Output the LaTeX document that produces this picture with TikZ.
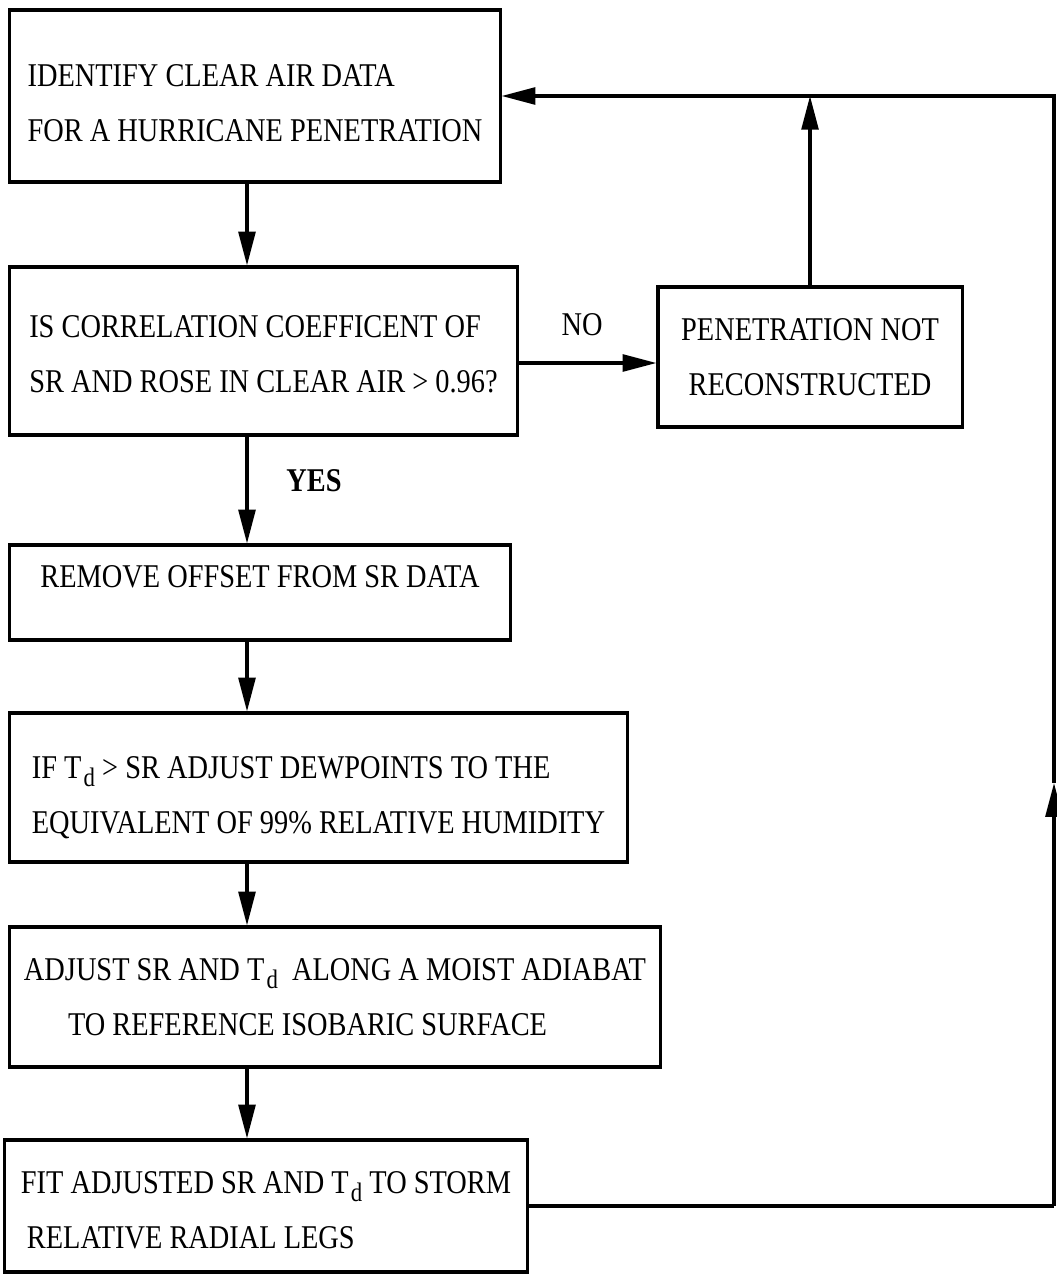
\documentclass[tikz,border=0pt]{standalone}
\usepackage{fontspec}
\setmainfont[FakeStretch=0.855]{Liberation Serif}
\usetikzlibrary{arrows.meta}

\newcommand{\Td}{T\kern1.5pt\raisebox{-6pt}{\fontsize{19}{19}\selectfont d}}

\begin{document}
\begin{tikzpicture}[x=0.025cm, y=-0.025cm,
    box/.style={draw, line width=2.2pt, align=left, inner sep=0pt,
        font=\fontsize{23.6}{39}\selectfont},
    arrow/.style={line width=2.2pt, -{Triangle[length=24pt,width=12pt]}},
    link/.style={line width=2.2pt},
    lbl/.style={font=\fontsize{23.6}{26}\selectfont}]

    \useasboundingbox (0,0) rectangle (1057,1274);

    \node[box, minimum width=12.25cm, minimum height=4.3cm] (ident) at (255,96)
        {\rule{0pt}{0.9cm}IDENTIFY CLEAR AIR DATA\\FOR A HURRICANE PENETRATION};
    \node[box, minimum width=12.675cm, minimum height=4.2cm] (corr) at (263.5,351)
        {\rule{0pt}{0.7cm}IS CORRELATION COEFFICENT OF\\SR AND ROSE IN CLEAR AIR > 0.96?};
    \node[box, align=center, minimum width=7.6cm, minimum height=3.5cm] (notrec) at (810,357)
        {PENETRATION NOT\\RECONSTRUCTED};
    \node[box, align=center, text depth=0.82cm, minimum width=12.5cm, minimum height=2.375cm] (offset) at (260,592.5)
        {REMOVE OFFSET FROM SR DATA};
    \node[box, minimum width=15.425cm, minimum height=3.725cm] (dewpt) at (318.5,787.5)
        {\rule{0pt}{1.05cm}IF \Td{} > SR ADJUST DEWPOINTS TO THE\\EQUIVALENT OF 99\% RELATIVE HUMIDITY};
    \node[box, minimum width=16.25cm, minimum height=3.5cm] (moist) at (335,997)
        {ADJUST SR AND \Td{}\ \ ALONG A MOIST ADIABAT\\\hspace*{1.1cm}TO REFERENCE ISOBARIC SURFACE};
    \node[box, minimum width=13.05cm, minimum height=3.3cm] (fit) at (266,1206)
        {\rule{0pt}{0.75cm}FIT ADJUSTED SR AND \Td{}\ TO STORM\\\hspace*{0.15cm}RELATIVE RADIAL LEGS};

    \coordinate (spine) at (247,0);
    \coordinate (rtop) at (1054,96);
    \coordinate (rmid) at (1054,783);

    % main chain
    \draw[arrow] (ident.south -| spine) -- (corr.north -| spine);
    \draw[arrow] (corr.south -| spine) -- (offset.north -| spine);
    \draw[arrow] (offset.south -| spine) -- (dewpt.north -| spine);
    \draw[arrow] (dewpt.south -| spine) -- (moist.north -| spine);
    \draw[arrow] (moist.south -| spine) -- (fit.north -| spine);

    \node[lbl, font=\fontsize{23.6}{26}\selectfont\bfseries] (yes) at (314,481) {YES};

    % rejected branch
    \draw[arrow] ([yshift=-0.3cm]corr.east) -- ([yshift=-0.3cm]corr.east -| notrec.west);
    \node[lbl] (no) at (582,325) {NO};
    \draw[arrow] (notrec.north) -- (notrec.north |- rtop);

    % loop back
    \draw[link] (fit.east) -- (fit.east -| rmid);
    \draw[arrow] (fit.east -| rmid) -- (rmid);
    \draw[arrow] (rmid) |- (ident.east);

\end{tikzpicture}
\end{document}
